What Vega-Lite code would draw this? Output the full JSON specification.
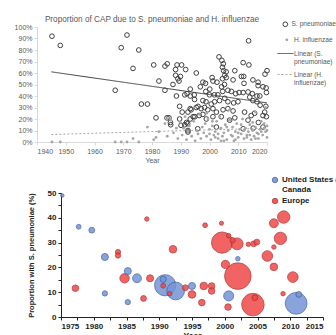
{
  "$schema": "https://vega.github.io/schema/vega-lite/v6.json",
  "padding": {"left": 14, "top": 14, "right": 0, "bottom": 0},
  "background": "white",
  "config": {"view": {"stroke": null}, "font": "Liberation Sans"},
  "resolve": {
    "scale": {"color": "independent", "stroke": "independent", "fill": "independent", "size": "independent", "strokeDash": "independent"},
    "legend": {"color": "independent", "stroke": "independent", "fill": "independent", "size": "independent", "strokeDash": "independent"}
  },
  "datasets": {
    "cap": [
      {"series":"S. pneumoniae","year":1945.2,"pct":92},{"series":"S. pneumoniae","year":1948.1,"pct":84},{"series":"S. pneumoniae","year":1967.2,"pct":45},{"series":"S. pneumoniae","year":1969.3,"pct":82},{"series":"S. pneumoniae","year":1971.3,"pct":93},{"series":"S. pneumoniae","year":1973.4,"pct":64},{"series":"S. pneumoniae","year":1975.4,"pct":80},{"series":"S. pneumoniae","year":1976.3,"pct":33},{"series":"S. pneumoniae","year":1978.4,"pct":33},{"series":"S. pneumoniae","year":1980.6,"pct":67},{"series":"S. pneumoniae","year":1981.4,"pct":21},{"series":"S. pneumoniae","year":1982.4,"pct":53},{"series":"S. pneumoniae","year":1984.5,"pct":66},{"series":"S. pneumoniae","year":1985.3,"pct":68},{"series":"S. pneumoniae","year":1984.5,"pct":45},{"series":"S. pneumoniae","year":1985.2,"pct":21},{"series":"S. pneumoniae","year":1986.5,"pct":15},{"series":"S. pneumoniae","year":1987.3,"pct":50},{"series":"S. pneumoniae","year":1988.2,"pct":63},{"series":"S. pneumoniae","year":1988.7,"pct":67},{"series":"S. pneumoniae","year":1990.3,"pct":67},{"series":"S. pneumoniae","year":1988.2,"pct":58},{"series":"S. pneumoniae","year":1989.4,"pct":53},{"series":"S. pneumoniae","year":1988.5,"pct":40},{"series":"S. pneumoniae","year":1991.4,"pct":41},{"series":"S. pneumoniae","year":1989.6,"pct":31},{"series":"S. pneumoniae","year":1990.5,"pct":26},{"series":"S. pneumoniae","year":1985.9,"pct":21},{"series":"S. pneumoniae","year":1989.6,"pct":20},{"series":"S. pneumoniae","year":1991.4,"pct":15},{"series":"S. pneumoniae","year":1992.5,"pct":10},{"series":"S. pneumoniae","year":1993.3,"pct":20},{"series":"S. pneumoniae","year":1993.3,"pct":29},{"series":"S. pneumoniae","year":1991.7,"pct":63},{"series":"S. pneumoniae","year":1995.4,"pct":60},{"series":"S. pneumoniae","year":1993.3,"pct":46},{"series":"S. pneumoniae","year":1992.2,"pct":42},{"series":"S. pneumoniae","year":1994.8,"pct":37},{"series":"S. pneumoniae","year":1996,"pct":31},{"series":"S. pneumoniae","year":1992.5,"pct":26},{"series":"S. pneumoniae","year":1994.3,"pct":22},{"series":"S. pneumoniae","year":1992,"pct":17},{"series":"S. pneumoniae","year":1997.7,"pct":52},{"series":"S. pneumoniae","year":1998.7,"pct":44},{"series":"S. pneumoniae","year":2000.1,"pct":46},{"series":"S. pneumoniae","year":2001.2,"pct":53},{"series":"S. pneumoniae","year":2002.6,"pct":52},{"series":"S. pneumoniae","year":2003.3,"pct":74},{"series":"S. pneumoniae","year":2004.5,"pct":65},{"series":"S. pneumoniae","year":2004.9,"pct":62},{"series":"S. pneumoniae","year":2005.8,"pct":61},{"series":"S. pneumoniae","year":2005.3,"pct":58},{"series":"S. pneumoniae","year":2005.8,"pct":56},{"series":"S. pneumoniae","year":2004.5,"pct":55},{"series":"S. pneumoniae","year":2008.8,"pct":62},{"series":"S. pneumoniae","year":2011.7,"pct":69},{"series":"S. pneumoniae","year":2013.7,"pct":67},{"series":"S. pneumoniae","year":2011.1,"pct":57},{"series":"S. pneumoniae","year":2011.9,"pct":57},{"series":"S. pneumoniae","year":2013.6,"pct":88},{"series":"S. pneumoniae","year":2015.1,"pct":54},{"series":"S. pneumoniae","year":2016.9,"pct":49},{"series":"S. pneumoniae","year":2019.3,"pct":59},{"series":"S. pneumoniae","year":2020,"pct":62},{"series":"S. pneumoniae","year":1989,"pct":55},{"series":"S. pneumoniae","year":1989.9,"pct":57},{"series":"S. pneumoniae","year":1993.3,"pct":40},{"series":"S. pneumoniae","year":1994.7,"pct":41},{"series":"S. pneumoniae","year":1996.8,"pct":48},{"series":"S. pneumoniae","year":1998.6,"pct":51},{"series":"S. pneumoniae","year":2000.9,"pct":56},{"series":"S. pneumoniae","year":2000,"pct":41},{"series":"S. pneumoniae","year":2001.7,"pct":41},{"series":"S. pneumoniae","year":2002.9,"pct":41},{"series":"S. pneumoniae","year":2004.6,"pct":44},{"series":"S. pneumoniae","year":2006.4,"pct":45},{"series":"S. pneumoniae","year":2007.6,"pct":44},{"series":"S. pneumoniae","year":2009.1,"pct":42},{"series":"S. pneumoniae","year":2010.3,"pct":43},{"series":"S. pneumoniae","year":2011.7,"pct":43},{"series":"S. pneumoniae","year":2013.4,"pct":43.5},{"series":"S. pneumoniae","year":2014.9,"pct":42},{"series":"S. pneumoniae","year":2016.5,"pct":40},{"series":"S. pneumoniae","year":2017.5,"pct":40},{"series":"S. pneumoniae","year":2018.6,"pct":48},{"series":"S. pneumoniae","year":2019.8,"pct":43},{"series":"S. pneumoniae","year":2014,"pct":39},{"series":"S. pneumoniae","year":2015.1,"pct":36},{"series":"S. pneumoniae","year":2016.5,"pct":35},{"series":"S. pneumoniae","year":1997.7,"pct":36},{"series":"S. pneumoniae","year":1998.8,"pct":35},{"series":"S. pneumoniae","year":2000.6,"pct":33},{"series":"S. pneumoniae","year":2001.8,"pct":35},{"series":"S. pneumoniae","year":2003.5,"pct":36},{"series":"S. pneumoniae","year":2005.3,"pct":38},{"series":"S. pneumoniae","year":2006.4,"pct":35},{"series":"S. pneumoniae","year":2008.4,"pct":34},{"series":"S. pneumoniae","year":2009.9,"pct":35},{"series":"S. pneumoniae","year":1993.6,"pct":28},{"series":"S. pneumoniae","year":1995.4,"pct":30},{"series":"S. pneumoniae","year":1997.1,"pct":29},{"series":"S. pneumoniae","year":1998.3,"pct":30},{"series":"S. pneumoniae","year":1999.4,"pct":28},{"series":"S. pneumoniae","year":2001.2,"pct":29},{"series":"S. pneumoniae","year":2002.4,"pct":26},{"series":"S. pneumoniae","year":2004.7,"pct":28},{"series":"S. pneumoniae","year":2006.4,"pct":29},{"series":"S. pneumoniae","year":2008.2,"pct":27},{"series":"S. pneumoniae","year":2012.2,"pct":26},{"series":"S. pneumoniae","year":2014.5,"pct":23},{"series":"S. pneumoniae","year":2018.6,"pct":23},{"series":"S. pneumoniae","year":1994.9,"pct":22},{"series":"S. pneumoniae","year":1996.4,"pct":23},{"series":"S. pneumoniae","year":1997.7,"pct":24},{"series":"S. pneumoniae","year":1998.9,"pct":20},{"series":"S. pneumoniae","year":2001.2,"pct":22},{"series":"S. pneumoniae","year":2004.1,"pct":22},{"series":"S. pneumoniae","year":2007,"pct":19},{"series":"S. pneumoniae","year":2008.8,"pct":21},{"series":"S. pneumoniae","year":2013.4,"pct":19},{"series":"S. pneumoniae","year":2015.7,"pct":25},{"series":"S. pneumoniae","year":2019.2,"pct":26},{"series":"S. pneumoniae","year":2019.8,"pct":22},{"series":"S. pneumoniae","year":1986.4,"pct":17},{"series":"S. pneumoniae","year":1990.1,"pct":14.5},{"series":"S. pneumoniae","year":1992.4,"pct":16},{"series":"S. pneumoniae","year":1995.9,"pct":11.5},{"series":"S. pneumoniae","year":2002.4,"pct":13},{"series":"S. pneumoniae","year":2011.7,"pct":11.5},{"series":"S. pneumoniae","year":2015.2,"pct":12},{"series":"S. pneumoniae","year":2018.6,"pct":13},{"series":"S. pneumoniae","year":1992.5,"pct":8.7},{"series":"S. pneumoniae","year":2004.3,"pct":71},{"series":"S. pneumoniae","year":2004.8,"pct":68},{"series":"S. pneumoniae","year":2005.2,"pct":50},{"series":"S. pneumoniae","year":2004.2,"pct":48},{"series":"S. pneumoniae","year":2008.2,"pct":54},{"series":"S. pneumoniae","year":2012,"pct":51},{"series":"S. pneumoniae","year":2016.9,"pct":52},{"series":"S. pneumoniae","year":2019.7,"pct":47},{"series":"S. pneumoniae","year":2017.6,"pct":32},{"series":"S. pneumoniae","year":2019.6,"pct":31},{"series":"S. pneumoniae","year":2017,"pct":17},
      {"series":"H. influenzae","year":1945.2,"pct":0},{"series":"H. influenzae","year":1948.1,"pct":0},{"series":"H. influenzae","year":1967.2,"pct":0},{"series":"H. influenzae","year":1969.3,"pct":0},{"series":"H. influenzae","year":1971.3,"pct":0},{"series":"H. influenzae","year":1973.4,"pct":3},{"series":"H. influenzae","year":1975.4,"pct":0},{"series":"H. influenzae","year":1978.4,"pct":13},{"series":"H. influenzae","year":1980.6,"pct":2},{"series":"H. influenzae","year":1981.4,"pct":4},{"series":"H. influenzae","year":1982.4,"pct":9},{"series":"H. influenzae","year":1984.5,"pct":16},{"series":"H. influenzae","year":1985.2,"pct":20},{"series":"H. influenzae","year":1985.3,"pct":5},{"series":"H. influenzae","year":1986.5,"pct":19},{"series":"H. influenzae","year":1987.5,"pct":8},{"series":"H. influenzae","year":1988.5,"pct":12},{"series":"H. influenzae","year":1989,"pct":3},{"series":"H. influenzae","year":1989.8,"pct":17},{"series":"H. influenzae","year":1990.5,"pct":6},{"series":"H. influenzae","year":1991,"pct":12},{"series":"H. influenzae","year":1991.5,"pct":22},{"series":"H. influenzae","year":1992,"pct":2},{"series":"H. influenzae","year":1992.5,"pct":9},{"series":"H. influenzae","year":1993,"pct":14},{"series":"H. influenzae","year":1993.8,"pct":5},{"series":"H. influenzae","year":1994.5,"pct":18},{"series":"H. influenzae","year":1995,"pct":1},{"series":"H. influenzae","year":1995.5,"pct":10},{"series":"H. influenzae","year":1996,"pct":7},{"series":"H. influenzae","year":1996.5,"pct":24},{"series":"H. influenzae","year":1997,"pct":3},{"series":"H. influenzae","year":1997.5,"pct":13},{"series":"H. influenzae","year":1998,"pct":8},{"series":"H. influenzae","year":1998.5,"pct":16},{"series":"H. influenzae","year":1999,"pct":5},{"series":"H. influenzae","year":1999.5,"pct":20},{"series":"H. influenzae","year":2000,"pct":11},{"series":"H. influenzae","year":2000.5,"pct":2},{"series":"H. influenzae","year":2001,"pct":14},{"series":"H. influenzae","year":2001.5,"pct":6},{"series":"H. influenzae","year":2002,"pct":9},{"series":"H. influenzae","year":2002.5,"pct":18},{"series":"H. influenzae","year":2003,"pct":3},{"series":"H. influenzae","year":2003.5,"pct":22},{"series":"H. influenzae","year":2004,"pct":12},{"series":"H. influenzae","year":2004.5,"pct":5},{"series":"H. influenzae","year":2005,"pct":8},{"series":"H. influenzae","year":2005.5,"pct":15},{"series":"H. influenzae","year":2006,"pct":2},{"series":"H. influenzae","year":2006.5,"pct":10},{"series":"H. influenzae","year":2007,"pct":19},{"series":"H. influenzae","year":2007.5,"pct":6},{"series":"H. influenzae","year":2008,"pct":13},{"series":"H. influenzae","year":2008.5,"pct":1},{"series":"H. influenzae","year":2009,"pct":9},{"series":"H. influenzae","year":2009.5,"pct":16},{"series":"H. influenzae","year":2010,"pct":4},{"series":"H. influenzae","year":2010.5,"pct":11},{"series":"H. influenzae","year":2011,"pct":7},{"series":"H. influenzae","year":2011.5,"pct":20},{"series":"H. influenzae","year":2012,"pct":3},{"series":"H. influenzae","year":2012.5,"pct":12},{"series":"H. influenzae","year":2013,"pct":6},{"series":"H. influenzae","year":2013.5,"pct":9},{"series":"H. influenzae","year":2014,"pct":15},{"series":"H. influenzae","year":2014.5,"pct":2},{"series":"H. influenzae","year":2015,"pct":10},{"series":"H. influenzae","year":2015.5,"pct":5},{"series":"H. influenzae","year":2016,"pct":13},{"series":"H. influenzae","year":2016.5,"pct":8},{"series":"H. influenzae","year":2017,"pct":3},{"series":"H. influenzae","year":2017.5,"pct":11},{"series":"H. influenzae","year":2018,"pct":18},{"series":"H. influenzae","year":2018.5,"pct":6},{"series":"H. influenzae","year":2019,"pct":12},{"series":"H. influenzae","year":2019.5,"pct":9},{"series":"H. influenzae","year":2020,"pct":4},{"series":"H. influenzae","year":2020,"pct":14},{"series":"H. influenzae","year":2002,"pct":4},{"series":"H. influenzae","year":2003,"pct":7},{"series":"H. influenzae","year":2005,"pct":1},{"series":"H. influenzae","year":2008,"pct":5},{"series":"H. influenzae","year":2010,"pct":8},{"series":"H. influenzae","year":2012,"pct":10},{"series":"H. influenzae","year":2014,"pct":6},{"series":"H. influenzae","year":2016,"pct":3},{"series":"H. influenzae","year":2018,"pct":9},{"series":"H. influenzae","year":2019,"pct":16},{"series":"H. influenzae","year":2000,"pct":7},{"series":"H. influenzae","year":2001,"pct":18},{"series":"H. influenzae","year":2004,"pct":1},{"series":"H. influenzae","year":2006,"pct":13},{"series":"H. influenzae","year":2009,"pct":2},{"series":"H. influenzae","year":2011,"pct":15},{"series":"H. influenzae","year":2013,"pct":4},{"series":"H. influenzae","year":2015,"pct":17},{"series":"H. influenzae","year":2017,"pct":7},{"series":"H. influenzae","year":2020,"pct":10},{"series":"H. influenzae","year":1999,"pct":25},{"series":"H. influenzae","year":2007,"pct":28},{"series":"H. influenzae","year":2019.5,"pct":30},{"series":"H. influenzae","year":2016,"pct":26}
    ],
    "trend": [
      {"series":"Linear (S. pneumoniae)","year":1945,"pct":61},
      {"series":"Linear (S. pneumoniae)","year":2020,"pct":34},
      {"series":"Linear (H. influenzae)","year":1945,"pct":6.5},
      {"series":"Linear (H. influenzae)","year":2020,"pct":12}
    ],
    "bubbles": [
      {"region":"United States and Canada","year":1975.2,"proportion":49,"n":12},
      {"region":"United States and Canada","year":1977.7,"proportion":36.4,"n":23},
      {"region":"United States and Canada","year":1979.7,"proportion":35,"n":34},
      {"region":"United States and Canada","year":1981.7,"proportion":24.2,"n":50},
      {"region":"United States and Canada","year":1981.7,"proportion":9.5,"n":28},
      {"region":"United States and Canada","year":1985.2,"proportion":18.5,"n":50},
      {"region":"United States and Canada","year":1986.6,"proportion":15.6,"n":79},
      {"region":"United States and Canada","year":1985.2,"proportion":6,"n":28},
      {"region":"United States and Canada","year":1990.6,"proportion":15.2,"n":38},
      {"region":"United States and Canada","year":1990.9,"proportion":12.8,"n":452},
      {"region":"United States and Canada","year":1992.5,"proportion":10.5,"n":314},
      {"region":"United States and Canada","year":1995,"proportion":12.5,"n":50},
      {"region":"United States and Canada","year":2000.6,"proportion":8.5,"n":102},
      {"region":"United States and Canada","year":2002,"proportion":23.5,"n":20},
      {"region":"United States and Canada","year":2010.9,"proportion":5.5,"n":475},
      {"region":"United States and Canada","year":2011.3,"proportion":9.1,"n":34},
      {"region":"Europe","year":1977.2,"proportion":11.6,"n":43},
      {"region":"Europe","year":1983.7,"proportion":26.2,"n":28},
      {"region":"Europe","year":1983.7,"proportion":24.8,"n":28},
      {"region":"Europe","year":1984.7,"proportion":15.6,"n":88},
      {"region":"Europe","year":1988.1,"proportion":39.5,"n":20},
      {"region":"Europe","year":1988.6,"proportion":15.6,"n":50},
      {"region":"Europe","year":1987.6,"proportion":7.5,"n":34},
      {"region":"Europe","year":1990.6,"proportion":12.6,"n":23},
      {"region":"Europe","year":1991.6,"proportion":9.4,"n":20},
      {"region":"Europe","year":1992.1,"proportion":27.3,"n":58},
      {"region":"Europe","year":1994,"proportion":11.8,"n":34},
      {"region":"Europe","year":1995,"proportion":9.1,"n":58},
      {"region":"Europe","year":1996.5,"proportion":5.8,"n":43},
      {"region":"Europe","year":1996.8,"proportion":12.5,"n":58},
      {"region":"Europe","year":1998,"proportion":12.5,"n":43},
      {"region":"Europe","year":1998,"proportion":10.5,"n":43},
      {"region":"Europe","year":1997,"proportion":37,"n":23},
      {"region":"Europe","year":1999.5,"proportion":37.8,"n":17},
      {"region":"Europe","year":1999.6,"proportion":30,"n":452},
      {"region":"Europe","year":2000.1,"proportion":21.2,"n":69},
      {"region":"Europe","year":2000.5,"proportion":4,"n":43},
      {"region":"Europe","year":2000.6,"proportion":32.8,"n":20},
      {"region":"Europe","year":2001.2,"proportion":31,"n":28},
      {"region":"Europe","year":2001.9,"proportion":29.5,"n":141},
      {"region":"Europe","year":2002,"proportion":16.5,"n":707},
      {"region":"Europe","year":2003.6,"proportion":29.3,"n":20},
      {"region":"Europe","year":2004.4,"proportion":29.5,"n":34},
      {"region":"Europe","year":2004.9,"proportion":30.2,"n":34},
      {"region":"Europe","year":2004.3,"proportion":5,"n":507},
      {"region":"Europe","year":2004.6,"proportion":7.8,"n":34},
      {"region":"Europe","year":2006.5,"proportion":24.6,"n":113},
      {"region":"Europe","year":2007.5,"proportion":20.2,"n":58},
      {"region":"Europe","year":2007.5,"proportion":28.2,"n":20},
      {"region":"Europe","year":2008.5,"proportion":31.7,"n":154},
      {"region":"Europe","year":2007.5,"proportion":37.8,"n":79},
      {"region":"Europe","year":2009,"proportion":40.3,"n":154},
      {"region":"Europe","year":2010.4,"proportion":16.1,"n":113},
      {"region":"Europe","year":2008.9,"proportion":9.4,"n":20}
    ]
  },
  "vconcat": [
    {
      "width": 230,
      "height": 115,
      "title": {"text": "Proportion of CAP due to S. pneumoniae and H. influenzae", "fontSize": 8.2, "fontWeight": "normal", "color": "#595959", "offset": -3},
      "encoding": {
        "x": {"field": "year", "type": "quantitative", "scale": {"domain": [1940, 2020], "nice": false, "zero": false},
          "axis": {"title": "Year", "values": [1940,1950,1960,1970,1980,1990,2000,2010,2020], "format": "d", "labelOverlap": false, "grid": false, "labelFontSize": 7, "labelColor": "#595959", "titleFontSize": 7, "titleFontWeight": "normal", "titleColor": "#595959", "titlePadding": 2, "domainColor": "#d9d9d9", "tickColor": "#d9d9d9", "tickSize": 3, "labelPadding": 2}},
        "y": {"field": "pct", "type": "quantitative", "scale": {"domain": [0, 100], "nice": false},
          "axis": {"title": null, "values": [0,10,20,30,40,50,60,70,80,90,100], "labelExpr": "datum.value + '%'", "labelOverlap": false, "grid": false, "labelFontSize": 7, "labelColor": "#595959", "domainColor": "#d9d9d9", "tickColor": "#d9d9d9", "tickSize": 3, "labelPadding": 2}}
      },
      "layer": [
        {
          "data": {"name": "cap"},
          "transform": [{"filter": "datum.series === 'S. pneumoniae'"}],
          "mark": {"type": "point", "filled": false, "strokeWidth": 1, "size": 22, "opacity": 1},
          "encoding": {
            "stroke": {"field": "series", "type": "nominal", "scale": {"domain": ["S. pneumoniae"], "range": ["#404040"]},
              "legend": {"title": null, "orient": "none", "legendX": 245, "legendY": -6, "labelFontSize": 6.6, "labelColor": "#595959", "labelOffset": 3, "symbolSize": 22, "symbolStrokeWidth": 1, "symbolType": "circle"}}
          }
        },
        {
          "data": {"name": "cap"},
          "transform": [{"filter": "datum.series === 'H. influenzae'"}],
          "mark": {"type": "point", "filled": true, "size": 8, "opacity": 1, "strokeWidth": 0},
          "encoding": {
            "fill": {"field": "series", "type": "nominal", "scale": {"domain": ["H. influenzae"], "range": ["#a6a6a6"]},
              "legend": {"title": null, "orient": "none", "legendX": 246.5, "legendY": 9.5, "labelFontSize": 6.6, "labelColor": "#595959", "labelOffset": 4, "symbolSize": 8, "symbolStrokeWidth": 0, "symbolType": "circle"}}
          }
        },
        {
          "data": {"name": "trend"},
          "mark": {"type": "line", "strokeWidth": 1},
          "encoding": {
            "color": {"field": "series", "type": "nominal", "scale": {"domain": ["Linear (S. pneumoniae)", "Linear (H. influenzae)"], "range": ["#404040", "#a6a6a6"]},
              "legend": {"title": null, "orient": "none", "legendX": 240, "legendY": 18, "labelFontSize": 6.6, "labelColor": "#595959", "rowPadding": 0, "labelOffset": 0, "symbolSize": 256, "symbolStrokeWidth": 1,
                "labelExpr": "datum.label == 'Linear (S. pneumoniae)' ? ['Linear (S.', 'pneumoniae)'] : ['Linear (H.', 'influenzae)']"}},
            "strokeDash": {"field": "series", "type": "nominal", "scale": {"domain": ["Linear (S. pneumoniae)", "Linear (H. influenzae)"], "range": [[1, 0], [2, 2]]},
              "legend": {"title": null, "orient": "none", "legendX": 240, "legendY": 18, "labelFontSize": 6.6, "labelColor": "#595959", "rowPadding": 0, "labelOffset": 0, "symbolSize": 256, "symbolStrokeWidth": 1,
                "labelExpr": "datum.label == 'Linear (S. pneumoniae)' ? ['Linear (S.', 'pneumoniae)'] : ['Linear (H.', 'influenzae)']"}}
          }
        }
      ]
    },
    {
      "bounds": "flush",
      "spacing": 23,
      "hconcat": [
        {"width": 1, "height": 1, "data": {"values": []}, "mark": "point"},
        {
          "width": 262,
          "height": 124,
          "data": {"name": "bubbles"},
          "mark": {"type": "circle", "opacity": 0.85, "strokeWidth": 0.8},
          "encoding": {
            "x": {"field": "year", "type": "quantitative", "scale": {"domain": [1975, 2015], "nice": false, "zero": false},
              "axis": {"title": "Year", "values": [1975,1977.5,1980,1982.5,1985,1987.5,1990,1992.5,1995,1997.5,2000,2002.5,2005,2007.5,2010,2012.5,2015], "format": "d", "labelExpr": "datum.value % 5 === 0 ? datum.label : ''", "labelOverlap": false, "grid": false, "labelFontSize": 8, "labelFontWeight": "bold", "labelColor": "#222222", "titleFontSize": 8.5, "titleFontWeight": "bold", "titleColor": "#222222", "titlePadding": 1, "domainColor": "#222222", "tickColor": "#222222", "tickSize": 3, "labelPadding": 2}},
            "y": {"field": "proportion", "type": "quantitative", "scale": {"domain": [0, 50], "nice": false},
              "axis": {"title": "Proportion with S. pneumoniae (%)", "values": [0,5,10,15,20,25,30,35,40,45,50], "labelExpr": "datum.value % 10 === 0 ? datum.label : ''", "labelOverlap": false, "grid": false, "labelFontSize": 8, "labelFontWeight": "bold", "labelColor": "#222222", "titleFontSize": 7.5, "titleFontWeight": "bold", "titleColor": "#222222", "titlePadding": 12, "minExtent": 0, "domainColor": "#222222", "tickColor": "#222222", "tickSize": 3, "labelPadding": 2}},
            "size": {"field": "n", "type": "quantitative", "scale": {"type": "linear", "domain": [0, 700], "range": [0, 700]}, "legend": null},
            "color": {"field": "region", "type": "nominal", "scale": {"domain": ["United States and Canada", "Europe"], "range": ["#7595d5", "#f04848"]},
              "legend": {"title": null, "orient": "none", "legendX": 234, "legendY": -17, "labelFontSize": 8, "labelFontWeight": "bold", "labelColor": "#222222", "symbolSize": 30, "symbolStrokeWidth": 0.8, "symbolStrokeColor": "#555555", "symbolOpacity": 0.9, "rowPadding": 2, "labelOffset": 3, "labelLimit": 200,
                "labelExpr": "datum.label == 'United States and Canada' ? ['United States and', 'Canada'] : datum.label"}},
            "stroke": {"field": "region", "type": "nominal", "scale": {"domain": ["United States and Canada", "Europe"], "range": ["#3a5aa0", "#a82828"]}, "legend": null},
            "order": {"field": "n", "type": "quantitative", "sort": "descending"}
          }
        }
      ]
    }
  ],
  "bounds": "flush",
  "spacing": 51
}
